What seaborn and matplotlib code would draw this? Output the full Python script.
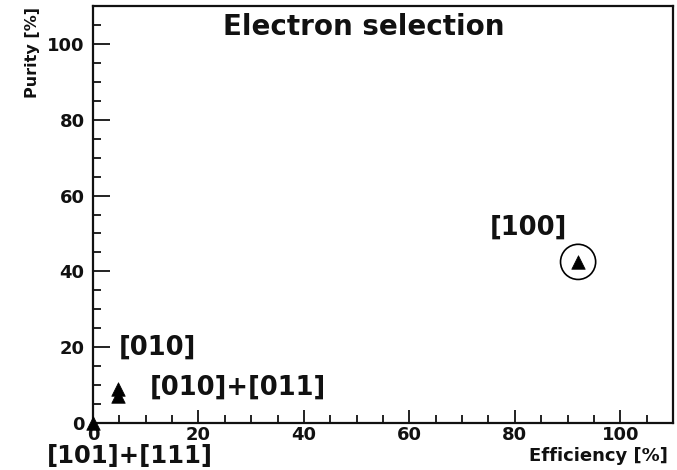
import matplotlib
matplotlib.use("Agg")
import matplotlib.pyplot as plt
from matplotlib.ticker import MultipleLocator
import seaborn as sns
import pandas as pd

# Data
point_labels = ["[100]", "[010]", "[010]+[011]", "[101]+[111]"]
efficiency = [92.0, 4.8, 4.8, 0.0]
purity = [42.5, 8.9, 7.1, 0.0]
circled = ["[100]"]

# label text anchor positions (data coords)
label_x = [82.6, 12.2, 27.4, 7.0]
label_y = [51.5, 19.8, 9.2, -8.8]

title_text = "Electron selection"
xlabel_text = "Efficiency [%]"
ylabel_text = "Purity [%]"

sns.set_theme(style="white")
plt.rcParams["font.family"] = ["DejaVu Sans"]
plt.rcParams["font.weight"] = "bold"

fig = plt.figure(figsize=(6.77, 4.70), dpi=100)
ax = fig.add_axes([93/677, 47/470, (673-93)/677, (423-6)/470])

df = pd.DataFrame({"eff": efficiency, "pur": purity, "label": point_labels})
sns.scatterplot(data=df, x="eff", y="pur", marker="^", color="black",
                s=95, edgecolor="black", linewidth=0.5, ax=ax, clip_on=False, zorder=5)

circ = df[df["label"].isin(circled)]
sns.scatterplot(data=circ, x="eff", y="pur", marker="o", s=640,
                facecolor="none", edgecolor="black", linewidth=1.2, ax=ax, zorder=4)

label_sizes = [18.5, 18.5, 18.5, 17.5]
for lab, lx, ly, fs in zip(point_labels, label_x, label_y, label_sizes):
    ax.text(lx, ly, lab, ha="center", va="center", fontsize=fs,
            fontweight="bold", color="#111111", clip_on=False)

ax.text(51.4, 104.5, title_text, ha="center", va="center", fontsize=20,
        fontweight="bold", color="#111111")

ax.set_xlim(0, 110)
ax.set_ylim(0, 110)
ax.xaxis.set_minor_locator(MultipleLocator(5))
ax.yaxis.set_minor_locator(MultipleLocator(5))
ax.set_xticks([0, 20, 40, 60, 80, 100])
ax.set_yticks([0, 20, 40, 60, 80, 100])

ax.tick_params(axis="x", which="major", direction="in", length=9.5, width=1.3,
               labelsize=13, pad=2.5, bottom=True, top=False, color="#111111")
ax.tick_params(axis="x", which="minor", direction="in", length=5.5, width=1.3,
               bottom=True, top=False, color="#111111")
ax.tick_params(axis="y", which="major", direction="in", length=12, width=1.3,
               labelsize=13, pad=6, left=True, right=False, color="#111111")
ax.tick_params(axis="y", which="minor", direction="in", length=6, width=1.3,
               left=True, right=False, color="#111111")
for lbl in ax.get_xticklabels() + ax.get_yticklabels():
    lbl.set_fontweight("bold")
    lbl.set_color("#111111")

ax.set_xlabel(xlabel_text, fontsize=13, fontweight="bold", color="#111111")
ax.xaxis.set_label_coords(0.991, -0.079)
ax.xaxis.label.set_ha("right")
ax.xaxis.label.set_va("center")

ax.set_ylabel(ylabel_text, fontsize=11.5, fontweight="bold", color="#111111")
ax.yaxis.set_label_coords(-0.105, 0.998)
ax.yaxis.label.set_rotation_mode("anchor")
ax.yaxis.label.set_ha("right")
ax.yaxis.label.set_va("center")

for sp in ax.spines.values():
    sp.set_visible(True)
    sp.set_color("#111111")
    sp.set_linewidth(1.6)
ax.set_facecolor("white")
ax.grid(False)

fig.savefig("out.png", dpi=100, facecolor="white")
